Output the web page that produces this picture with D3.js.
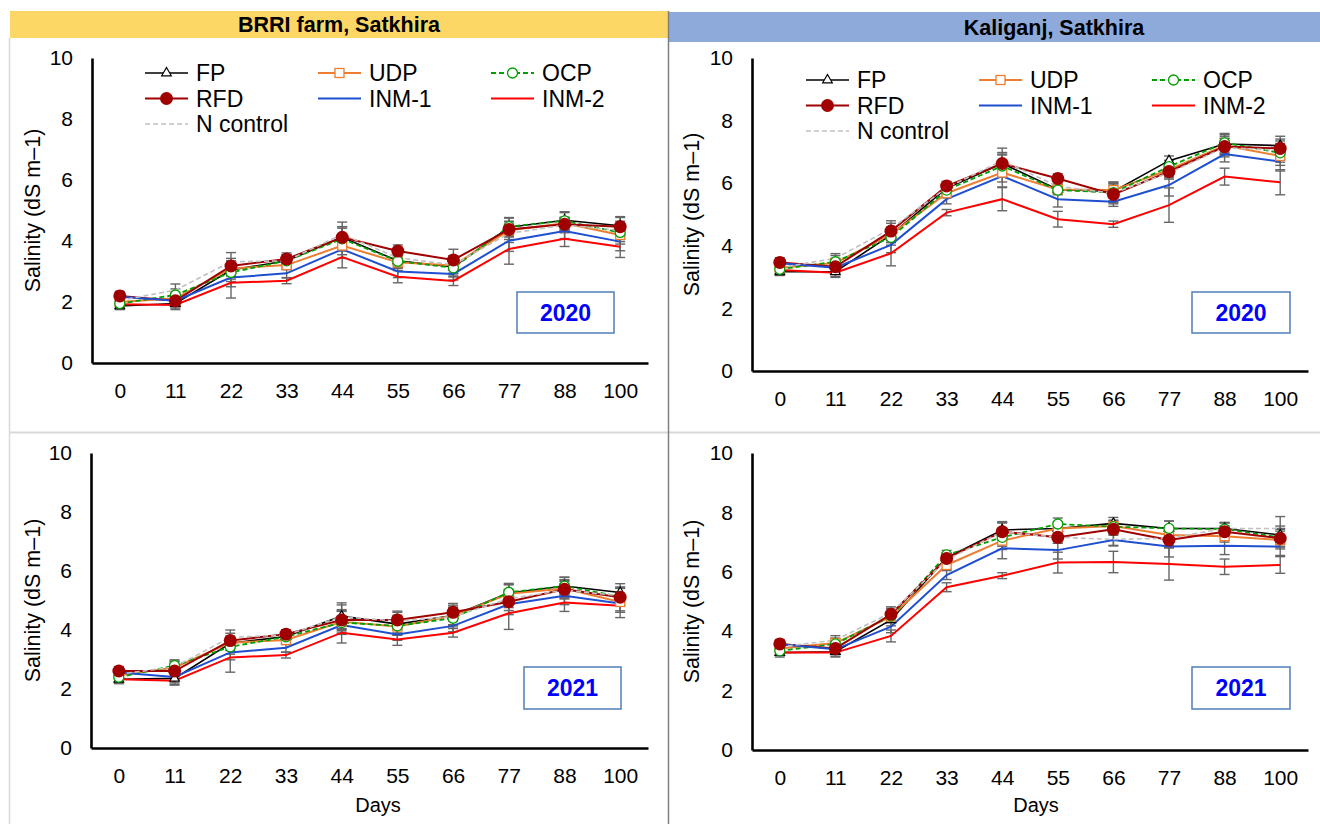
<!DOCTYPE html>
<html>
<head>
<meta charset="utf-8">
<script src="https://cdn.jsdelivr.net/npm/d3@7"></script>
<style>
  html, body { margin: 0; padding: 0; background: #fff; }
  svg { display: block; font-family: "Liberation Sans", Arial, sans-serif; }
</style>
</head>
<body>
<svg id="chart" width="1320" height="824"></svg>
<script>
// Sampling days (x categories)
const days = ["0", "11", "22", "33", "44", "55", "66", "77", "88", "100"];
const yTicks = [0, 2, 4, 6, 8, 10];
const seriesNames = ["FP", "UDP", "OCP", "RFD", "INM-1", "INM-2", "N control"];
const siteTitles = ["BRRI farm, Satkhira", "Kaliganj, Satkhira"];
const years = ["2020", "2020", "2021", "2021"];

// Mean salinity (dS m-1), one row per treatment in seriesNames order
const brri2020 = [
  [1.87, 1.95, 3.05, 3.35, 4.12, 3.35, 3.15, 4.45, 4.68, 4.50],
  [2.00, 2.12, 3.10, 3.21, 3.85, 3.30, 3.20, 4.35, 4.58, 4.20],
  [1.95, 2.23, 2.97, 3.35, 4.07, 3.34, 3.12, 4.47, 4.66, 4.28],
  [2.20, 2.04, 3.18, 3.41, 4.12, 3.67, 3.38, 4.38, 4.55, 4.47],
  [2.17, 2.04, 2.80, 2.94, 3.73, 3.00, 2.92, 4.01, 4.33, 3.98],
  [1.93, 1.90, 2.63, 2.70, 3.47, 2.83, 2.69, 3.74, 4.07, 3.81],
  [2.05, 2.39, 3.32, 3.35, 4.22, 3.45, 3.22, 4.25, 4.52, 4.35]
];
const kali2020 = [
  [3.17, 3.17, 4.35, 5.84, 6.63, 5.80, 5.74, 6.72, 7.25, 7.20],
  [3.30, 3.45, 4.37, 5.68, 6.34, 5.80, 5.78, 6.43, 7.20, 6.87],
  [3.25, 3.49, 4.27, 5.78, 6.55, 5.78, 5.70, 6.53, 7.29, 6.97],
  [3.47, 3.33, 4.47, 5.91, 6.63, 6.15, 5.64, 6.37, 7.17, 7.11],
  [3.44, 3.30, 4.03, 5.49, 6.23, 5.49, 5.41, 5.94, 6.93, 6.69],
  [3.23, 3.14, 3.76, 5.06, 5.49, 4.85, 4.69, 5.30, 6.21, 6.03],
  [3.30, 3.60, 4.55, 5.85, 6.72, 5.90, 5.68, 6.33, 7.14, 7.05]
];
const brri2021 = [
  [2.33, 2.36, 3.55, 3.78, 4.47, 4.20, 4.49, 5.25, 5.49, 5.27],
  [2.47, 2.73, 3.57, 3.66, 4.28, 4.12, 4.48, 5.23, 5.41, 4.95],
  [2.40, 2.79, 3.43, 3.77, 4.25, 4.14, 4.40, 5.28, 5.49, 5.13],
  [2.61, 2.61, 3.64, 3.86, 4.34, 4.34, 4.60, 4.96, 5.38, 5.11],
  [2.56, 2.41, 3.24, 3.40, 4.17, 3.85, 4.14, 4.87, 5.16, 4.90],
  [2.33, 2.28, 3.07, 3.15, 3.91, 3.68, 3.91, 4.57, 4.93, 4.82],
  [2.50, 2.75, 3.75, 3.83, 4.45, 4.30, 4.45, 5.06, 5.35, 5.16]
];
const kali2021 = [
  [3.28, 3.31, 4.38, 6.48, 7.41, 7.46, 7.63, 7.46, 7.46, 7.24],
  [3.42, 3.60, 4.49, 6.23, 7.05, 7.46, 7.54, 7.24, 7.20, 7.07],
  [3.34, 3.57, 4.51, 6.57, 7.16, 7.61, 7.52, 7.46, 7.44, 7.16],
  [3.57, 3.42, 4.57, 6.45, 7.35, 7.16, 7.43, 7.07, 7.35, 7.13],
  [3.56, 3.39, 4.15, 5.89, 6.79, 6.73, 7.07, 6.85, 6.88, 6.85],
  [3.28, 3.28, 3.84, 5.48, 5.87, 6.31, 6.33, 6.26, 6.17, 6.23],
  [3.47, 3.70, 4.62, 6.40, 7.35, 7.16, 7.09, 7.13, 7.46, 7.46]
];

// Standard errors, same layout as the means
const brri2020Err = [
  [0.12, 0.15, 0.30, 0.20, 0.35, 0.20, 0.30, 0.30, 0.25, 0.30],
  [0.10, 0.20, 0.25, 0.15, 0.30, 0.20, 0.25, 0.30, 0.20, 0.30],
  [0.15, 0.20, 0.30, 0.20, 0.40, 0.20, 0.30, 0.30, 0.30, 0.30],
  [0.15, 0.20, 0.25, 0.20, 0.30, 0.20, 0.35, 0.25, 0.20, 0.30],
  [0.10, 0.15, 0.30, 0.15, 0.30, 0.20, 0.20, 0.35, 0.25, 0.30],
  [0.10, 0.15, 0.50, 0.10, 0.35, 0.20, 0.15, 0.50, 0.25, 0.35],
  [0.10, 0.20, 0.30, 0.20, 0.40, 0.20, 0.30, 0.30, 0.25, 0.30]
];
const kali2020Err = [
  [0.12, 0.15, 0.25, 0.15, 0.35, 0.15, 0.30, 0.15, 0.30, 0.30],
  [0.10, 0.15, 0.20, 0.15, 0.30, 0.15, 0.25, 0.20, 0.30, 0.30],
  [0.15, 0.20, 0.25, 0.15, 0.35, 0.15, 0.30, 0.20, 0.30, 0.30],
  [0.15, 0.20, 0.25, 0.15, 0.30, 0.15, 0.30, 0.20, 0.25, 0.30],
  [0.10, 0.15, 0.25, 0.15, 0.35, 0.25, 0.15, 0.35, 0.25, 0.30],
  [0.10, 0.15, 0.40, 0.10, 0.37, 0.25, 0.10, 0.55, 0.27, 0.40],
  [0.10, 0.15, 0.25, 0.15, 0.40, 0.15, 0.30, 0.20, 0.30, 0.30]
];
const brri2021Err = [
  [0.15, 0.20, 0.25, 0.15, 0.45, 0.30, 0.35, 0.30, 0.30, 0.30],
  [0.10, 0.20, 0.20, 0.15, 0.35, 0.30, 0.30, 0.30, 0.30, 0.30],
  [0.15, 0.20, 0.25, 0.15, 0.40, 0.30, 0.35, 0.30, 0.30, 0.30],
  [0.15, 0.20, 0.25, 0.15, 0.35, 0.30, 0.30, 0.30, 0.30, 0.30],
  [0.10, 0.20, 0.25, 0.15, 0.30, 0.20, 0.20, 0.35, 0.30, 0.30],
  [0.10, 0.15, 0.50, 0.10, 0.35, 0.20, 0.15, 0.55, 0.30, 0.40],
  [0.10, 0.20, 0.25, 0.15, 0.40, 0.30, 0.30, 0.30, 0.30, 0.30]
];
const kali2021Err = [
  [0.15, 0.15, 0.20, 0.15, 0.28, 0.20, 0.20, 0.25, 0.20, 0.30],
  [0.10, 0.15, 0.20, 0.15, 0.30, 0.20, 0.20, 0.25, 0.20, 0.30],
  [0.15, 0.20, 0.20, 0.15, 0.30, 0.20, 0.20, 0.25, 0.20, 0.30],
  [0.15, 0.20, 0.20, 0.15, 0.30, 0.20, 0.20, 0.25, 0.20, 0.30],
  [0.10, 0.15, 0.20, 0.15, 0.35, 0.30, 0.20, 0.35, 0.30, 0.30],
  [0.10, 0.15, 0.20, 0.15, 0.10, 0.35, 0.36, 0.54, 0.26, 0.28],
  [0.10, 0.15, 0.20, 0.15, 0.30, 0.20, 0.20, 0.25, 0.20, 0.40]
];

// Per-treatment drawing style
const styles = [
  { color: "#000000", width: 1.6, dash: null,  marker: "triangle" },
  { color: "#ed7d31", width: 2,   dash: null,  marker: "square" },
  { color: "#00a000", width: 1.8, dash: "5,3", marker: "circle" },
  { color: "#a00000", width: 2,   dash: null,  marker: "dot" },
  { color: "#1f4fd0", width: 2,   dash: null,  marker: null },
  { color: "#ff0000", width: 2,   dash: null,  marker: null },
  { color: "#c0c0c0", width: 1.6, dash: "5,3", marker: null }
];

const svg = d3.select("#chart");
const FONT = "\"Liberation Sans\", Arial, sans-serif";

// Frame: headers, dividers and panel borders
svg.append("rect").attr("x", 10).attr("y", 11).attr("width", 658).attr("height", 27).attr("fill", "#fdd766");
svg.append("rect").attr("x", 669).attr("y", 12).attr("width", 651).attr("height", 30).attr("fill", "#8eaadb");
svg.append("text").attr("x", 339).attr("y", 32).attr("text-anchor", "middle")
  .attr("font-size", 21.5).attr("font-weight", "bold").text(siteTitles[0]);
svg.append("text").attr("x", 1054).attr("y", 35).attr("text-anchor", "middle")
  .attr("font-size", 21.5).attr("font-weight", "bold").text(siteTitles[1]);
svg.append("line").attr("x1", 9.5).attr("x2", 9.5).attr("y1", 38).attr("y2", 824).attr("stroke", "#d9d9d9").attr("stroke-width", 1.5);
svg.append("line").attr("x1", 9).attr("x2", 1320).attr("y1", 432.5).attr("y2", 432.5).attr("stroke", "#d9d9d9").attr("stroke-width", 2);
svg.append("line").attr("x1", 668.5).attr("x2", 668.5).attr("y1", 11).attr("y2", 824).attr("stroke", "#7f7f7f").attr("stroke-width", 1.5);

const panels = [
  { values: brri2020, errors: brri2020Err, x0: 92,  x1: 648,  yTop: 58,  yBot: 363, box: [517, 292, 97, 41], legend: [145, 73], titleX: 33 },
  { values: kali2020, errors: kali2020Err, x0: 752, x1: 1308, yTop: 58,  yBot: 371, box: [1192, 292, 98, 41], legend: [806, 80], titleX: 692 },
  { values: brri2021, errors: brri2021Err, x0: 91,  x1: 648,  yTop: 453, yBot: 748, box: [524, 667, 97, 42], legend: null, titleX: 33, daysX: 378 },
  { values: kali2021, errors: kali2021Err, x0: 752, x1: 1308, yTop: 453, yBot: 750, box: [1192, 667, 98, 42], legend: null, titleX: 692, daysX: 1036 }
];

function drawMarker(g, type, color, x, y) {
  if (type === "triangle") {
    g.append("path").attr("d", d3.symbol(d3.symbolTriangle, 40)())
      .attr("transform", `translate(${x},${y})`)
      .attr("fill", "#fff").attr("stroke", color).attr("stroke-width", 1.2);
  } else if (type === "square") {
    g.append("rect").attr("x", x - 4.5).attr("y", y - 4.5).attr("width", 9).attr("height", 9)
      .attr("fill", "#fff").attr("stroke", color).attr("stroke-width", 1.3);
  } else if (type === "circle") {
    g.append("circle").attr("cx", x).attr("cy", y).attr("r", 5)
      .attr("fill", "#fff").attr("stroke", color).attr("stroke-width", 1.3);
  } else if (type === "dot") {
    g.append("circle").attr("cx", x).attr("cy", y).attr("r", 6.5).attr("fill", color);
  }
}

panels.forEach((p, pi) => {
  const g = svg.append("g");
  const x = d3.scalePoint().domain(days).range([p.x0, p.x1]).padding(0.5);
  const y = d3.scaleLinear().domain([0, 10]).range([p.yBot, p.yTop]);

  // Axes
  const ax = g.append("g").attr("transform", `translate(0,${p.yBot})`)
    .call(d3.axisBottom(x).tickSize(0).tickSizeOuter(0).tickPadding(20));
  const ay = g.append("g").attr("transform", `translate(${p.x0},0)`)
    .call(d3.axisLeft(y).tickValues(yTicks).tickSize(0).tickSizeOuter(0).tickPadding(19));
  [ax, ay].forEach(a => {
    a.select(".domain").attr("stroke", "#000").attr("stroke-width", 2.6);
    a.selectAll("text").attr("font-size", 21).attr("font-family", FONT).attr("fill", "#000");
  });

  // Y-axis title
  g.append("text")
    .attr("transform", `translate(${p.titleX},${(p.yTop + p.yBot) / 2}) rotate(-90)`)
    .attr("text-anchor", "middle").attr("dominant-baseline", "central")
    .attr("font-size", 21.5).text("Salinity (dS m\u20131)");

  if (p.daysX) {
    g.append("text").attr("x", p.daysX).attr("y", 812).attr("text-anchor", "middle")
      .attr("font-size", 20).text("Days");
  }

  // Error bars
  const eg = g.append("g").attr("stroke", "#666").attr("stroke-width", 1.4);
  p.values.forEach((vals, si) => {
    vals.forEach((v, i) => {
      const e = p.errors[si][i];
      const cx = x(days[i]);
      eg.append("line").attr("x1", cx).attr("x2", cx).attr("y1", y(v - e)).attr("y2", y(v + e));
      eg.append("line").attr("x1", cx - 5).attr("x2", cx + 5).attr("y1", y(v - e)).attr("y2", y(v - e));
      eg.append("line").attr("x1", cx - 5).attr("x2", cx + 5).attr("y1", y(v + e)).attr("y2", y(v + e));
    });
  });

  // Lines then markers
  const line = d3.line().x((d, i) => x(days[i])).y(d => y(d));
  p.values.forEach((vals, si) => {
    const s = styles[si];
    g.append("path").datum(vals).attr("d", line)
      .attr("fill", "none").attr("stroke", s.color).attr("stroke-width", s.width)
      .attr("stroke-dasharray", s.dash);
  });
  p.values.forEach((vals, si) => {
    const s = styles[si];
    if (s.marker) vals.forEach((v, i) => drawMarker(g, s.marker, s.color, x(days[i]), y(v)));
  });

  // Year label box
  const [bx, by, bw, bh] = p.box;
  g.append("rect").attr("x", bx).attr("y", by).attr("width", bw).attr("height", bh)
    .attr("fill", "#fff").attr("stroke", "#4f7fb8").attr("stroke-width", 1.5);
  g.append("text").attr("x", bx + bw / 2).attr("y", by + bh / 2).attr("text-anchor", "middle")
    .attr("dominant-baseline", "central").attr("font-size", 23).attr("font-weight", "bold")
    .attr("fill", "#0000ff").text(years[pi]);

  // Legend
  if (p.legend) {
    const [lx, ly] = p.legend;
    const lg = g.append("g");
    seriesNames.forEach((name, si) => {
      const s = styles[si];
      const col = si % 3, row = Math.floor(si / 3);
      const sx = lx + col * 173, sy = ly + row * 25.5;
      lg.append("line").attr("x1", sx).attr("x2", sx + 43).attr("y1", sy).attr("y2", sy)
        .attr("stroke", s.color).attr("stroke-width", s.width).attr("stroke-dasharray", s.dash);
      if (s.marker) drawMarker(lg, s.marker, s.color, sx + 21.5, sy);
      lg.append("text").attr("x", sx + 51).attr("y", sy).attr("dominant-baseline", "central")
        .attr("font-size", 23).text(name);
    });
  }
});
</script>
</body>
</html>
